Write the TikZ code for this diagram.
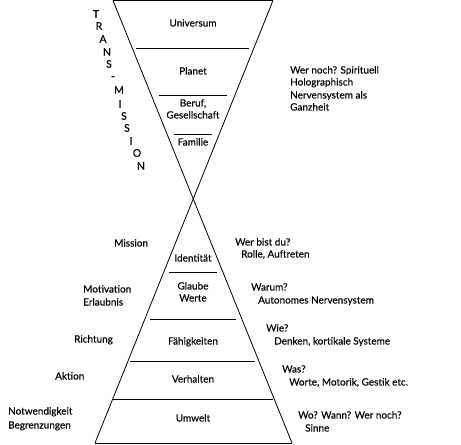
\documentclass[tikz,border=0pt]{standalone}
\usepackage{fontspec}
\setmainfont{Lato}[FakeBold=0.3]
\begin{document}
\begin{tikzpicture}[x=1bp,y=-1bp,
  txt/.style={font=\fontsize{10}{11}\selectfont, inner sep=0pt, text height=7bp, text depth=2bp},
  lft/.style={txt, anchor=west},
  mid/.style={txt, anchor=center},
  ltr/.style={font=\fontsize{10.5}{11}\selectfont, inner sep=0pt, anchor=center},
  edge/.style={line width=0.8bp, black},
  sep/.style={line width=0.8bp, black}]
\useasboundingbox (0,0) rectangle (461,445);
% hourglass corners
\coordinate (tl) at (113,0.5);
\coordinate (tr) at (273,0.5);
\coordinate (bl) at (95,443);
\coordinate (br) at (292,443);
\draw[edge] (tl) -- (tr);
\draw[edge] (bl) -- (br);
\draw[edge] (tl) -- (br);
\draw[edge] (tr) -- (bl);
% separators top
\coordinate (s1a) at (136,48); \coordinate (s1b) at (249,48);
\coordinate (s2a) at (159,95); \coordinate (s2b) at (227,95);
\coordinate (s3a) at (174,134); \coordinate (s3b) at (212,134);
\draw[sep] (s1a) -- (s1b);
\draw[sep] (s2a) -- (s2b);
\draw[sep] (s3a) -- (s3b);
% separators bottom
\coordinate (b1a) at (169,272); \coordinate (b1b) at (217,272);
\coordinate (b2a) at (150,319); \coordinate (b2b) at (236,319);
\coordinate (b3a) at (130,361); \coordinate (b3b) at (255,361);
\coordinate (b4a) at (113,399); \coordinate (b4b) at (273,399);
\draw[sep] (b1a) -- (b1b);
\draw[sep] (b2a) -- (b2b);
\draw[sep] (b3a) -- (b3b);
\draw[sep] (b4a) -- (b4b);
% inner labels
\node[mid] (universum) at (193,24) {Universum};
\node[mid] (planet) at (193,72) {Planet};
\node[mid] (beruf) at (193,104) {Beruf,};
\node[mid] (gesell) at (193,116) {Gesellschaft};
\node[mid] (familie) at (193,143) {Familie};
\node[mid] (identitaet) at (193,259) {Identität};
\node[mid] (glaube) at (193,287) {Glaube};
\node[mid] (werte) at (193,299) {Werte};
\node[mid] (faehig) at (193,342) {Fähigkeiten};
\node[mid] (verhalten) at (193,380) {Verhalten};
\node[mid] (umwelt) at (193,419) {Umwelt};
% TRANS-MISSION
\node[ltr] (l1) at (96,14) {T};
\node[ltr] (l2) at (99,26) {R};
\node[ltr] (l3) at (103,39) {A};
\node[ltr] (l4) at (107,52) {N};
\node[ltr] (l5) at (109,64) {S};
\node[ltr] (l6) at (113,78) {-};
\node[ltr] (l7) at (119,90) {M};
\node[ltr] (l8) at (120,104) {I};
\node[ltr] (l9) at (124,116) {S};
\node[ltr] (l10) at (127,128) {S};
\node[ltr] (l11) at (131,141) {I};
\node[ltr] (l12) at (137,153) {O};
\node[ltr] (l13) at (141,166) {N};
% right top
\node[lft] (r0a) at (290,71) {Wer noch? Spirituell};
\node[lft] (r0b) at (290,83) {Holographisch};
\node[lft] (r0c) at (290,96) {Nervensystem als};
\node[lft] (r0d) at (290,108) {Ganzheit};
% left labels
\node[lft] (mission) at (114,244) {Mission};
\node[lft] (motiv) at (83,290) {Motivation};
\node[lft] (erlaub) at (83,303) {Erlaubnis};
\node[lft] (richtung) at (74,340) {Richtung};
\node[lft] (aktion) at (55,377) {Aktion};
\node[lft] (notw) at (8,412) {Notwendigkeit};
\node[lft] (begr) at (8,426) {Begrenzungen};
% right labels
\node[lft] (r1a) at (235,243) {Wer bist du?};
\node[lft] (r1b) at (241,255) {Rolle, Auftreten};
\node[lft] (r2a) at (251,288) {Warum?};
\node[lft] (r2b) at (258,301) {Autonomes Nervensystem};
\node[lft] (r3a) at (266,329) {Wie?};
\node[lft] (r3b) at (274,342) {Denken, kortikale Systeme};
\node[lft] (r4a) at (282,370) {Was?};
\node[lft] (r4b) at (289,383) {Worte, Motorik, Gestik etc.};
\node[lft] (r5a) at (298,416) {Wo? Wann? Wer noch?};
\node[lft] (r5b) at (305,429) {Sinne};
\end{tikzpicture}
\end{document}
